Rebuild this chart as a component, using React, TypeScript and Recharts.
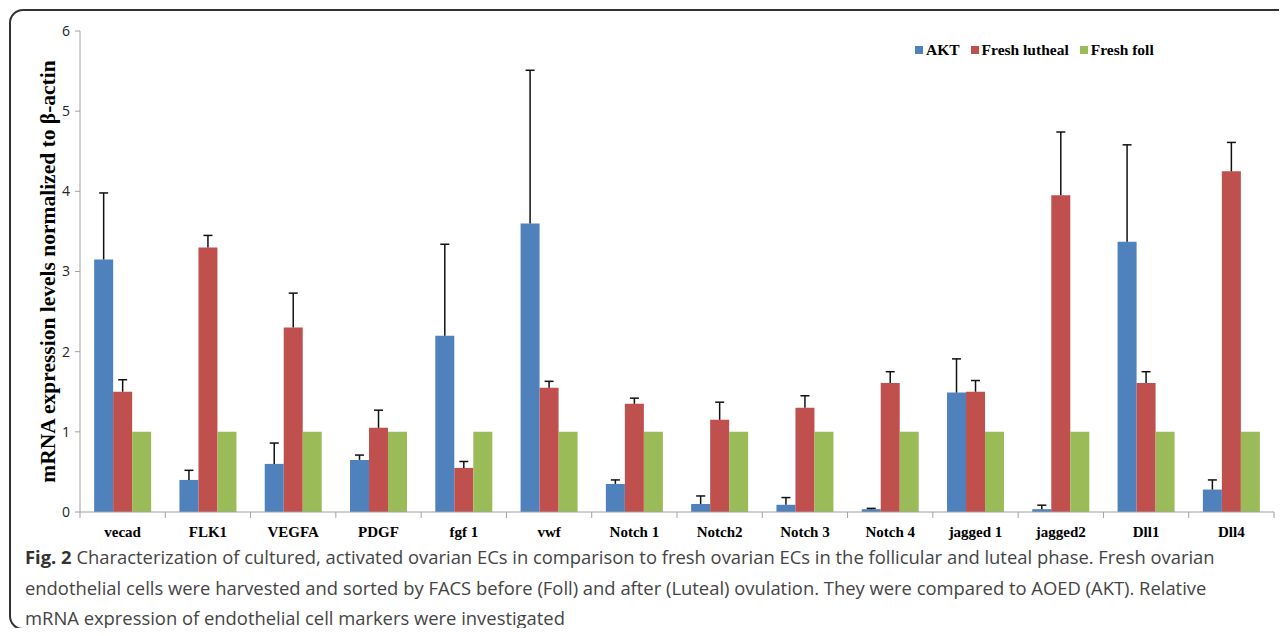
import { BarChart, Bar, XAxis, YAxis, Legend } from "recharts";

const categories = ["vecad", "FLK1", "VEGFA", "PDGF", "fgf 1", "vwf", "Notch 1", "Notch2", "Notch 3", "Notch 4", "jagged 1", "jagged2", "Dll1", "Dll4"];
const akt = [3.15, 0.4, 0.6, 0.65, 2.2, 3.6, 0.35, 0.1, 0.09, 0.035, 1.49, 0.035, 3.37, 0.28];
const aktErr = [0.83, 0.12, 0.26, 0.06, 1.14, 1.91, 0.05, 0.1, 0.09, 0.01, 0.42, 0.05, 1.21, 0.12];
const lutheal = [1.5, 3.3, 2.3, 1.05, 0.55, 1.55, 1.35, 1.15, 1.3, 1.61, 1.5, 3.95, 1.61, 4.25];
const luthealErr = [0.15, 0.15, 0.43, 0.22, 0.08, 0.08, 0.07, 0.22, 0.15, 0.14, 0.14, 0.79, 0.14, 0.36];
const foll = [1, 1, 1, 1, 1, 1, 1, 1, 1, 1, 1, 1, 1, 1];
const yTicks = [0, 1, 2, 3, 4, 5, 6];
const seriesOrder = ["AKT", "Fresh lutheal", "Fresh foll"];

const data = categories.map((name, i) => ({
  name,
  akt: akt[i],
  aktErr: aktErr[i],
  lutheal: lutheal[i],
  luthealErr: luthealErr[i],
  foll: foll[i],
}));

const serif = "'Liberation Serif', 'Times New Roman', serif";

// plus-only error bar drawn as the top segment of a stack
const ErrShape = (props: any) => {
  const { x, y, width, height } = props;
  if (height == null || isNaN(height)) return null;
  const cx = x + width / 2;
  return (
    <g>
      <line x1={cx} y1={y + height} x2={cx} y2={y} stroke="#111" strokeWidth={1.5} />
      <line x1={cx - 4.5} y1={y} x2={cx + 4.5} y2={y} stroke="#111" strokeWidth={1.5} />
    </g>
  );
};

const CatTick = (props: any) => {
  const { x, y, payload, index, visibleTicksCount, width } = props;
  const half = payload.offset ?? width / visibleTicksCount / 2;
  return (
    <g>
      <line x1={x - half} y1={y} x2={x - half} y2={y + 6} stroke="#a0a0a0" />
      {index === visibleTicksCount - 1 && <line x1={x + half} y1={y} x2={x + half} y2={y + 6} stroke="#a0a0a0" />}
      <text x={x} y={y + 25} textAnchor="middle" fontFamily={serif} fontWeight="bold" fontSize={15} fill="#000">
        {payload.value}
      </text>
    </g>
  );
};

const YTitle = (props: any) => {
  const { viewBox } = props;
  const cx = viewBox.x + 8;
  const cy = viewBox.y + viewBox.height / 2;
  return (
    <text x={cx} y={cy} transform={`rotate(-90 ${cx} ${cy})`} textAnchor="middle" dominantBaseline="central" fontFamily={serif} fontWeight="bold" fontSize={21.5} fill="#000">
      mRNA expression levels normalized to β-actin
    </text>
  );
};

const LegendBox = (props: any) => {
  const items = [...(props.payload ?? [])]
    .filter((p: any) => p.type !== "none")
    .sort((a: any, b: any) => seriesOrder.indexOf(a.value) - seriesOrder.indexOf(b.value));
  return (
    <div style={{ display: "flex", alignItems: "center", fontFamily: serif, fontWeight: "bold", fontSize: 15.5, color: "#000" }}>
      {items.map((p: any) => (
        <span key={p.value} style={{ display: "flex", alignItems: "center", marginRight: 11 }}>
          <span style={{ display: "inline-block", width: 8, height: 8, background: p.color, marginRight: 3 }} />
          {p.value}
        </span>
      ))}
    </div>
  );
};

export default function App() {
  return (
    <div style={{ position: "relative", width: 1287, height: 636, margin: -8, overflow: "hidden", background: "#fff" }}>
      <div
        style={{
          position: "absolute",
          left: 9,
          top: 9,
          width: 1320,
          height: 621,
          border: "2px solid #333",
          borderRadius: 14,
          boxSizing: "border-box",
        }}
      />
      <div style={{ position: "absolute", left: 0, top: 0 }}>
        <BarChart width={1287} height={560} data={data} margin={{ top: 31, right: 13, bottom: 8, left: 40 }} barCategoryGap="16.6%" barGap={0}>
          <XAxis dataKey="name" height={40} stroke="#a0a0a0" tickLine={false} tickSize={0} tickMargin={0} tick={<CatTick />} interval={0} />
          <YAxis
            width={40}
            domain={[0, 6]}
            ticks={yTicks}
            stroke="#a0a0a0"
            tickSize={5}
            tickMargin={5}
            tick={{ fill: "#222", fontFamily: "'Open Sans', sans-serif", fontSize: 14 }}
            label={{ content: <YTitle /> }}
          />
          <Legend
            layout="horizontal"
            verticalAlign="middle"
            align="center"
            content={<LegendBox />}
            wrapperStyle={{ top: 41, left: 915, width: 320 }}
          />
          <Bar dataKey="akt" name="AKT" stackId="a" fill="#4F81BD" isAnimationActive={false} />
          <Bar dataKey="aktErr" stackId="a" fill="none" legendType="none" shape={<ErrShape />} isAnimationActive={false} />
          <Bar dataKey="lutheal" name="Fresh lutheal" stackId="l" fill="#C0504D" isAnimationActive={false} />
          <Bar dataKey="luthealErr" stackId="l" fill="none" legendType="none" shape={<ErrShape />} isAnimationActive={false} />
          <Bar dataKey="foll" name="Fresh foll" fill="#9BBB59" isAnimationActive={false} />
        </BarChart>
      </div>
      <div
        style={{
          position: "absolute",
          left: 25,
          top: 542,
          width: 1250,
          fontFamily: "'Open Sans', sans-serif",
          fontSize: 18.4,
          lineHeight: "30.5px",
          color: "#444",
          whiteSpace: "nowrap",
        }}
      >
        <div>
          <b style={{ color: "#333" }}>Fig. 2</b> Characterization of cultured, activated ovarian ECs in comparison to fresh ovarian ECs in the follicular and luteal phase. Fresh ovarian
        </div>
        <div>endothelial cells were harvested and sorted by FACS before (Foll) and after (Luteal) ovulation. They were compared to AOED (AKT). Relative</div>
        <div>mRNA expression of endothelial cell markers were investigated</div>
      </div>
    </div>
  );
}
